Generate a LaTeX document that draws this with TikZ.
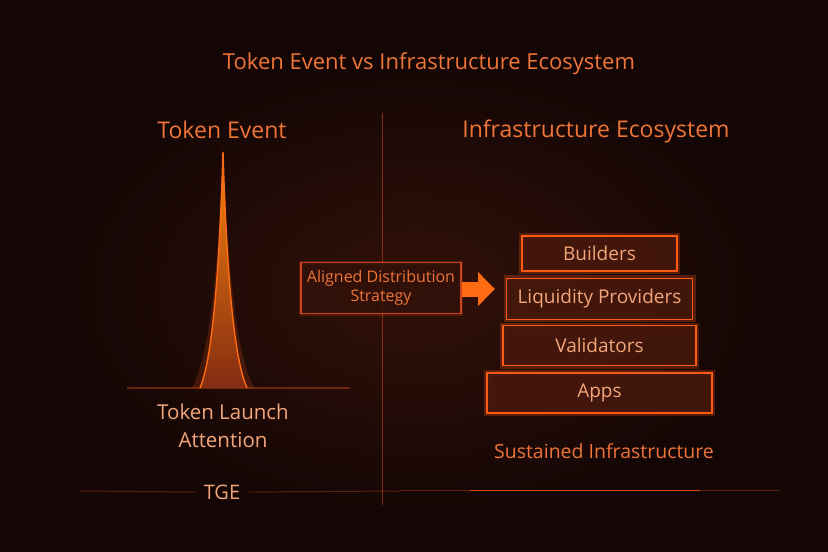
\documentclass[tikz,border=0pt]{standalone}
\usepackage{fontspec}
\setmainfont{Open Sans}
\usetikzlibrary{arrows.meta,positioning}
\definecolor{fondo}{HTML}{140605}
\definecolor{fondoc}{HTML}{321109}
\definecolor{ember}{HTML}{FF5A14}
\definecolor{emberd}{HTML}{C8431A}
\definecolor{titulo}{HTML}{EE7438}
\definecolor{peach}{HTML}{F2A57A}
\definecolor{relleno}{HTML}{46180B}

\begin{document}
\begin{tikzpicture}[x=1pt,y=-1pt,
  capa/.style={draw=ember,line width=1.3pt,fill=relleno,fill opacity=.9,text opacity=1,
               preaction={draw=ember,line width=6pt,opacity=.25},
               text=peach,font=\fontsize{19}{22}\selectfont,inner sep=0pt},
  caja/.style={draw=emberd,line width=1.1pt,fill=relleno!60!fondo,fill opacity=.85,text opacity=1,
               preaction={draw=ember,line width=4pt,opacity=.18},
               text=titulo,font=\fontsize{16}{19}\selectfont,align=center,inner sep=0pt},
  rotulo/.style={text=titulo,inner sep=0pt},
  flechota/.style={-{Triangle[length=17pt,width=33pt]},line width=15pt,color=ember!90!yellow},
  linea/.style={line width=1pt,color=ember}]
  % fondo
  \useasboundingbox (0,0) rectangle (828,552);
  \fill[fondo] (0,0) rectangle (828,552);
  \shade[inner color=fondoc,outer color=fondo] (60,60) rectangle (770,520);

  % titulos
  \node[rotulo,font=\fontsize{22}{26}\selectfont] (tit) at (429,64) {Token Event vs Infrastructure Ecosystem};
  \node[rotulo,font=\fontsize{23}{27}\selectfont] (izq) at (222,130) {Token Event};
  \node[rotulo,font=\fontsize{23}{27}\selectfont] (der) at (596,131) {Infrastructure Ecosystem};

  % divisor y lineas base
  \draw[linea,opacity=.45] (382,113) -- (382,505);
  \draw[linea,opacity=.35,line width=1.5pt] (127,388) -- (350,388);
  \node[rotulo,text=peach,font=\fontsize{20}{24}\selectfont] (tge) at (222,492) {TGE};
  \draw[linea,opacity=.3] (80,491) -- ([xshift=-8pt]tge.west);
  \draw[linea,opacity=.3] ([xshift=8pt]tge.east) -- (400,491);
  \draw[linea,opacity=.3] (400,490) -- (780,490);
  \draw[linea,opacity=.75] (470,490) -- (700,490);

  % pico
  \fill[ember,opacity=.18] (192,388) .. controls (212,350) and (219,250) .. (223,145)
     .. controls (227,250) and (234,350) .. (254,388) -- cycle;
  \shade[top color=ember!70!yellow,bottom color=emberd!65!fondo,opacity=.95]
     (200,388) .. controls (214,355) and (220,250) .. (223,152)
     .. controls (226,250) and (232,355) .. (247,388) -- cycle;
  \draw[ember!90!yellow,line width=1.4pt]
     (200,388) .. controls (214,355) and (220,250) .. (223,152)
     .. controls (226,250) and (232,355) .. (247,388);
  \node[rotulo,text=peach,font=\fontsize{20.5}{28}\selectfont,align=center] (lanz) at (223,426)
     {Token Launch\\Attention};

  % estrategia y pila
  \node[caja,minimum width=160pt,minimum height=51pt] (estr) at (381,288)
     {Aligned Distribution\\Strategy};
  \node[capa,minimum width=155pt,minimum height=35pt] (build) at (599.5,253.5) {Builders};
  \node[capa,minimum width=186pt,minimum height=41pt,below=6pt of build] (liq) {Liquidity Providers};
  \node[capa,minimum width=193pt,minimum height=40pt,below=5pt of liq] (vali) {Validators};
  \node[capa,minimum width=225pt,minimum height=40pt,below=6pt of vali] (apps) {Apps};
  \coordinate (punta) at (495,289);
  \draw[flechota] (estr.east |- punta) -- (punta);
  \node[rotulo,font=\fontsize{19.5}{23}\selectfont] (sost) at (604,451) {Sustained Infrastructure};
\end{tikzpicture}
\end{document}
